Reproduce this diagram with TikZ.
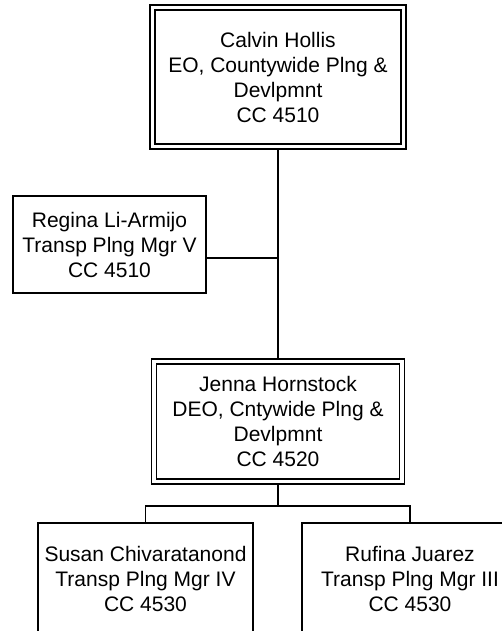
\documentclass[tikz,border=0pt]{standalone}
\usepackage{fontspec}
\setmainfont{Liberation Sans}
\begin{document}
\begin{tikzpicture}[x=1pt,y=-1pt,
  txt/.style={font=\fontsize{21}{25}\selectfont, align=center, inner sep=0pt},
  singlebox/.style={txt, draw, line width=1.7pt, fill=white, outer sep=0.85pt},
  doublebox/.style={txt, draw, line width=1.7pt, double, double distance=3.2pt, fill=white, outer sep=3.3pt},
  conn/.style={line width=1.7pt}]
\useasboundingbox (0,0) rectangle (502,631);
% nodes
\node[doublebox, minimum width=251pt, minimum height=139pt] (calvin) at (278,77)
  {Calvin Hollis\\EO, Countywide Plng \&\\Devlpmnt\\CC 4510};
\node[doublebox, minimum width=248pt, minimum height=120pt] (jenna) at (278,421.5)
  {Jenna Hornstock\\DEO, Cntywide Plng \&\\Devlpmnt\\CC 4520};
\node[singlebox, minimum width=193pt, minimum height=97pt] (regina) at (109.5,244.5)
  {Regina Li-Armijo\\Transp Plng Mgr V\\CC 4510};
\node[singlebox, minimum width=215pt, minimum height=112pt] (susan) at (145.5,579)
  {Susan Chivaratanond\\Transp Plng Mgr IV\\CC 4530};
\node[singlebox, minimum width=216pt, minimum height=112pt] (rufina) at (410,579)
  {Rufina Juarez\\Transp Plng Mgr III\\CC 4530};
% connectors
\coordinate (rj) at (278,258);
\coordinate (bus) at (278,506);
\draw[conn] (calvin.south) -- (jenna.north);
\draw[conn] (rj -| regina.east) -- (rj);
\draw[conn] (jenna.south) -- (bus);
\draw[conn] (susan.north) |- (bus) -| (rufina.north);
\end{tikzpicture}
\end{document}
